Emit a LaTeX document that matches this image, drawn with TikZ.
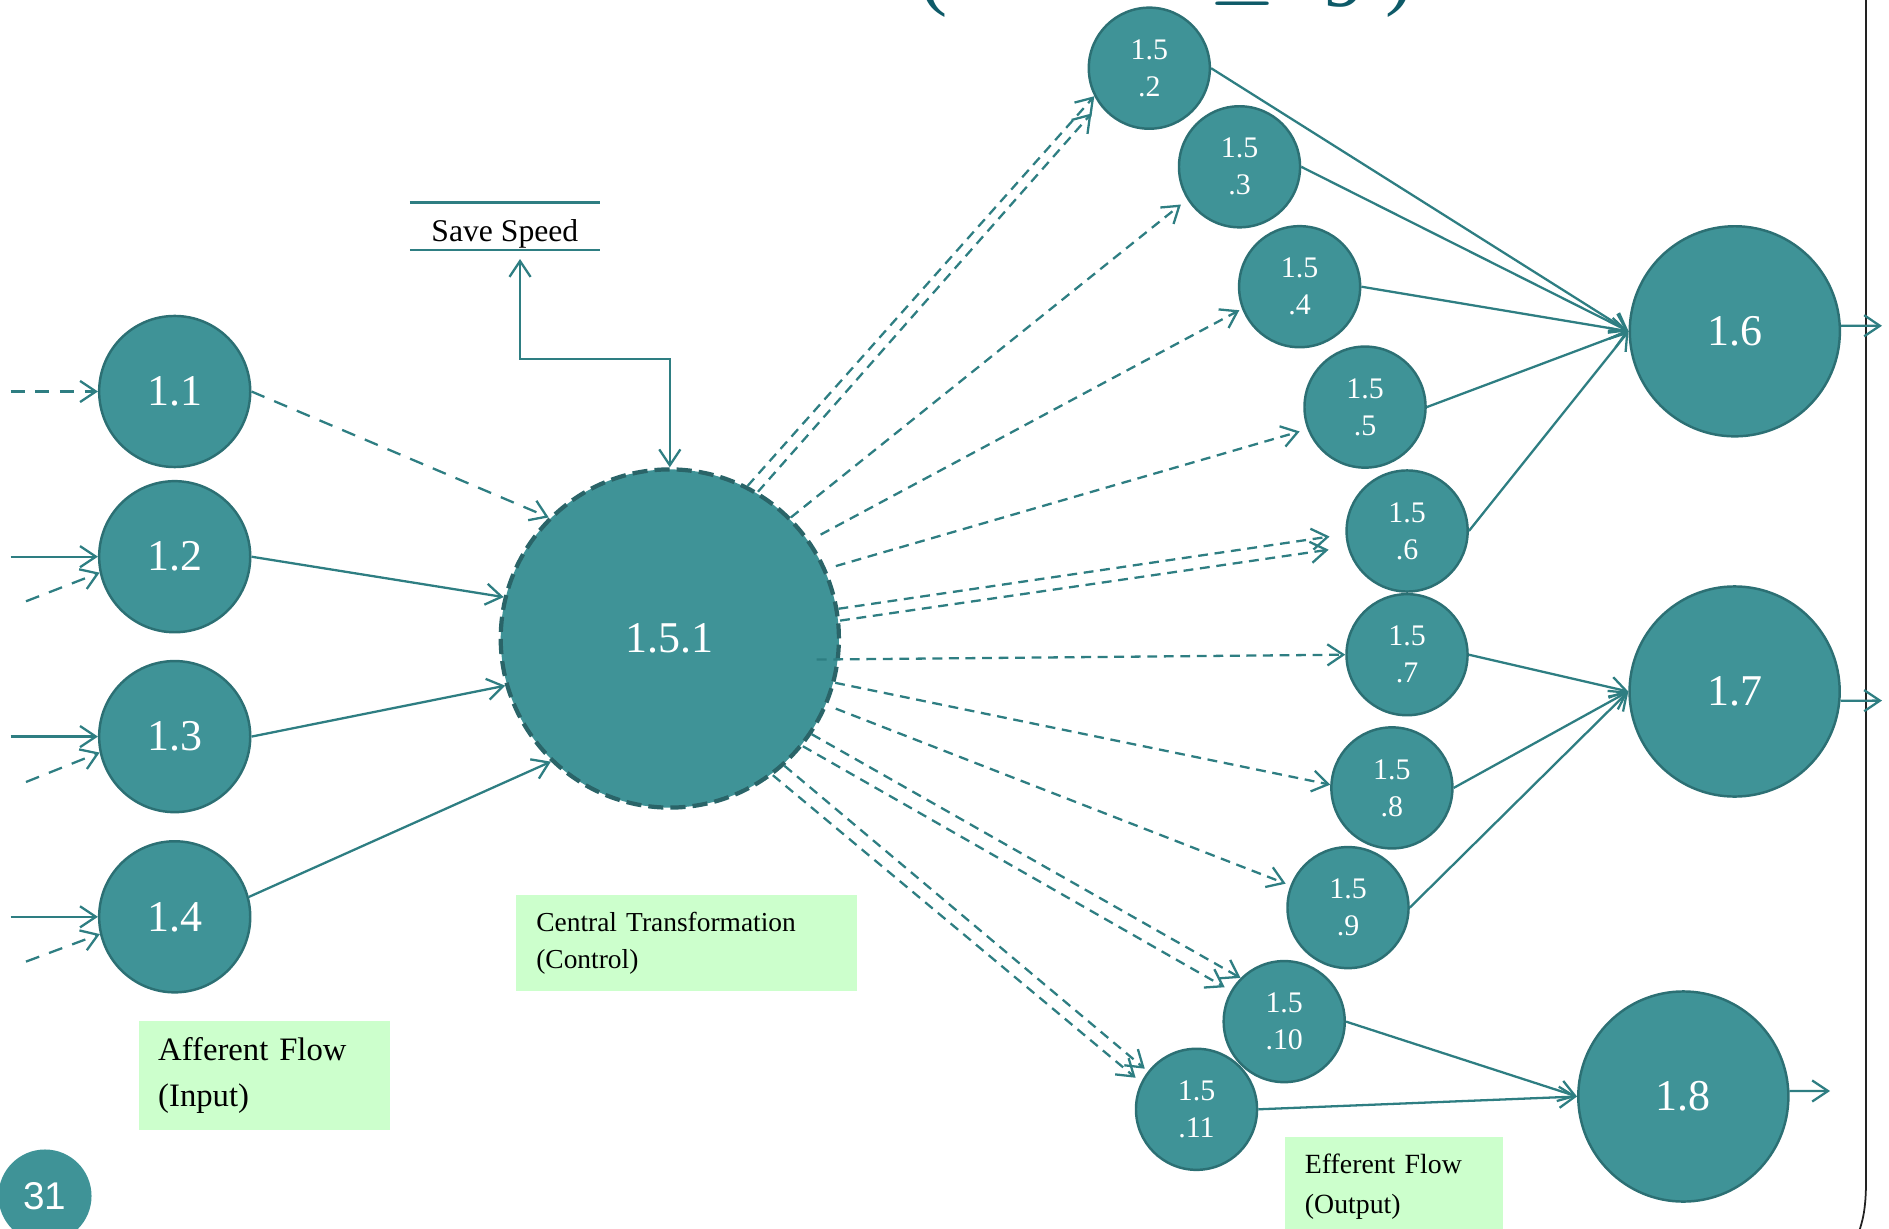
\documentclass[tikz,border=0pt]{standalone}
\usepackage{fontspec}
\setmainfont{Liberation Serif}
\newfontfamily\pagefont{Liberation Sans}
\usetikzlibrary{arrows.meta,calc}

\definecolor{procfill}{HTML}{3F9397}
\definecolor{procedge}{HTML}{2C7074}
\definecolor{hubedge}{HTML}{2A6468}
\definecolor{flowcol}{HTML}{2E7E82}
\definecolor{notegreen}{HTML}{CCFFCC}
\definecolor{titlelight}{HTML}{9FCAD3}
\definecolor{titledark}{HTML}{0E5A68}
\definecolor{framecol}{HTML}{222222}

\tikzset{
  proc/.style={circle, fill=procfill, draw=procedge, line width=0.7pt, text=white, inner sep=0pt},
  inproc/.style={proc, minimum size=1.51cm, font=\fontsize{12.5}{15}\selectfont},
  outproc/.style={proc, minimum size=2.1cm, font=\fontsize{12.5}{15}\selectfont},
  subproc/.style={proc, minimum size=1.21cm, align=center, font=\fontsize{8.5}{10.5}\selectfont},
  hubproc/.style={circle, fill=procfill, draw=hubedge, line width=1.2pt,
    dash pattern=on 4.3pt off 2pt, minimum size=3.38cm, inner sep=0pt, text=white,
    font=\fontsize{12.5}{15}\selectfont},
  flow/.style={draw=flowcol, line width=0.65pt, ->},
  ctrl/.style={flow, dash pattern=on 2.8pt off 1.9pt},
  feed/.style={flow, dash pattern=on 4pt off 3pt},
  note/.style={fill=notegreen, anchor=north west, align=left, inner ysep=0pt, text=black},
  titlepart/.style={anchor=base west, inner sep=0pt, font=\fontsize{24}{28}\selectfont},
}

\begin{document}
\begin{tikzpicture}[x=0.01cm, y=-0.01cm, >={Straight Barb[length=4.5pt,width=6pt]}]
\useasboundingbox (0,0) rectangle (1889,1228);
\clip (0,0) rectangle (1889,1228);

% slide title, mostly above the visible area
\node[titlepart, text=titlelight] (tA) at (157,-1) {Central Transform};
\node[titlepart, text=titledark] (tB) at (919,0) {(};
\node[titlepart, text=titlelight] (tC) at (945,-1) {Fan-out};
\node[titlepart, text=titledark] (tD) at (1208,-6) {$\leq$};
\node[titlepart, text=titledark] (tE) at (1323,7) {9};
\node[titlepart, text=titledark] (tF) at (1385,0) {)};

% slide frame
\draw[framecol, line width=0.5pt] (1866,-5) -- (1866,1180) .. controls (1866,1212) and (1862,1222) .. (1858,1235);

% afferent processes
\node[inproc] (n11) at (174.7,391.5) {1.1};
\node[inproc] (n12) at (174.7,556.7) {1.2};
\node[inproc] (n13) at (174.7,736.6) {1.3};
\node[inproc] (n14) at (174.7,916.8) {1.4};

% central transform
\node[hubproc] (c) at (669.8,638.5) {1.5.1};

% sub-processes of 1.5
\node[subproc] (s2)  at (1149.3,68.2)  {1.5\\.2};
\node[subproc] (s3)  at (1239.5,166.8) {1.5\\.3};
\node[subproc] (s4)  at (1299.6,286.7) {1.5\\.4};
\node[subproc] (s5)  at (1365.0,407.1) {1.5\\.5};
\node[subproc] (s6)  at (1407.1,531.0) {1.5\\.6};
\node[subproc] (s7)  at (1407.0,654.7) {1.5\\.7};
\node[subproc] (s8)  at (1391.9,787.9) {1.5\\.8};
\node[subproc] (s9)  at (1348.0,907.6) {1.5\\.9};
\node[subproc] (s10) at (1284.2,1021.6) {1.5\\.10};
\node[subproc] (s11) at (1196.5,1109.3) {1.5\\.11};

% efferent processes
\node[outproc] (r6) at (1734.8,331.3) {1.6};
\node[outproc] (r7) at (1734.6,691.5) {1.7};
\node[outproc] (r8) at (1683.3,1096.5) {1.8};

% data store
\node[inner xsep=0pt, inner ysep=0pt, text height=0.384cm, text depth=0.073cm,
      minimum width=1.883cm, anchor=base, font=\fontsize{9}{11}\selectfont] (ss) at (504.85,241.7) {Save Speed};
\draw[flowcol, line width=0.65pt] (ss.north west) -- (ss.north east) (ss.south west) -- (ss.south east);

% labels
\node[note, text width=3.0cm, inner xsep=0.2cm, minimum height=0.964cm,
      font=\fontsize{7.8}{10.5}\selectfont] (ctbox) at (515.6,893.9) {Central Transformation\\(Control)};
\node[note, text width=2.126cm, inner xsep=0.19cm, minimum height=1.084cm,
      font=\fontsize{9.3}{13}\selectfont] (afbox) at (138.5,1020.4) {Afferent Flow\\(Input)};
\node[note, text width=1.78cm, inner xsep=0.2cm, minimum height=1.0cm,
      font=\fontsize{7.9}{11.2}\selectfont] (efbox) at (1284.2,1136) {Efferent Flow\\(Output)};

% page number
\node[circle, fill=procfill, minimum size=0.93cm, inner sep=0pt, text=white,
      font=\pagefont\fontsize{11}{13}\selectfont] (pg) at (45,1196) {31};

% incoming flows on the left
\coordinate (i11)  at (10.7,391.5);
\coordinate (i12)  at (10.7,556.7);
\coordinate (i12d) at (26,601.3);
\coordinate (i13)  at (10.7,736.6);
\coordinate (i13d) at (26,782);
\coordinate (i14)  at (10.7,916.8);
\coordinate (i14d) at (26,961.6);
\draw[feed] (i11) -- (n11.west);
\draw[flow] (i12) -- (n12.west);
\draw[feed] (i12d) -- (n12.192);
\draw[flow] (i13) -- (n13.west);
\draw[feed] (i13d) -- (n13.192);
\draw[flow] (i14) -- (n14.west);
\draw[feed] (i14d) -- (n14.193);

% afferent into the central transform
\draw[feed] (n11.east) -- (c.135);
\draw[flow] (n12.east) -- (c.166);
\draw[flow] (n13.east) -- (c.196);
\draw[flow] (n14.15) -- (c.226);

% central transform <-> data store
\coordinate (ssin) at ($(ss.south)+(15.2,9.3)$);
\draw[flow, <->] (ssin) |- ($(c.north)+(0,-108)$) -- (c.north);

% control flows to the sub-processes
\draw[ctrl] (c.63) -- (s2.207);
\draw[ctrl, shorten >=0.12cm] (c.59) -- (s2.216);
\draw[ctrl, shorten >=0.08cm] (c.45) -- (s3.212);
\draw[ctrl, shorten <=0.12cm, shorten >=0.03cm] (c.35) -- (s4.201);
\draw[ctrl, shorten <=0.1cm, shorten >=0.08cm] (c.24) -- (s5.201);
\draw[ctrl, shorten >=0.16cm] (c.10) -- (s6.183);
\draw[ctrl, shorten >=0.19cm] (c.6) -- (s6.195);
\draw[ctrl, shorten <=-0.23cm] (c.-7) -- (s7.180);
\draw[ctrl] (c.-15) -- (s8.177);
\draw[ctrl, shorten <=0.09cm, shorten >=0.05cm] (c.-23) -- (s9.159);
\draw[ctrl] (c.-34) -- (s10.135);
\draw[ctrl, shorten >=0.07cm] (c.-39) -- (s10.150);
\draw[ctrl, shorten >=0.04cm] (c.-48) -- (s11.142);
\draw[ctrl, shorten >=0.07cm] (c.-53) -- (s11.154);

% sub-processes into the efferent processes
\draw[flow] (s2.east) -- (r6.180);
\draw[flow] (s3.east) -- (r6.180);
\draw[flow] (s4.east) -- (r6.180);
\draw[flow] (s5.east) -- (r6.180);
\draw[flow] (s6.east) -- (r6.180);
\draw[flow] (s7.east) -- (r7.180);
\draw[flow] (s8.east) -- (r7.180);
\draw[flow] (s9.east) -- (r7.180);
\draw[flow] (s10.east) -- (r8.180);
\draw[flow] (s11.east) -- (r8.180);

% outgoing flows
\coordinate (o6) at (1882,325.8);
\coordinate (o7) at (1882,700.6);
\coordinate (o8) at (1830,1091);
\draw[flow] (r6.3) -- (o6);
\draw[flow] (r7.-5) -- (o7);
\draw[flow] (r8.3) -- (o8);
\end{tikzpicture}
\end{document}
